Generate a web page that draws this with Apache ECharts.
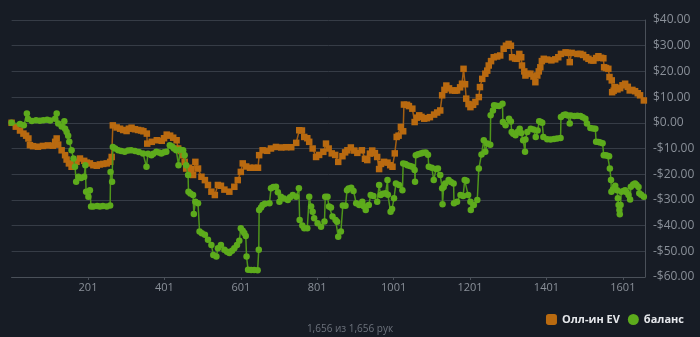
<!DOCTYPE html>
<html>
<head>
<meta charset="utf-8">
<script src="https://cdn.jsdelivr.net/npm/echarts@6/dist/echarts.min.js"></script>
<style>
  html, body { margin: 0; padding: 0; background: #171c25; }
  #chart { width: 700px; height: 337px; }
</style>
</head>
<body>
<div id="chart"></div>
<script>
// Hands played and session totals
const handsTotal = 1656;
const subtitleText = '1,656 из 1,656 рук';
const seriesNames = ['Олл-ин EV', 'баланс'];
const seriesColors = ['#b96a10', '#5dab1c'];

// All-in EV, [hand number, dollars]
const allInEv = [
  [1,0],[12,-1.5],[23,-3.0],[32,-4.2],[39,-5.0],[45,-6.1],[49,-8.7],[57,-9.1],[70,-9.3],[83,-9.0],
  [96,-8.8],[109,-8.9],[115,-7.4],[119,-6.1],[123,-8.5],[132,-10.7],[141,-12.6],[145,-14.3],[151,-15.8],[158,-17.1],
  [164,-16.0],[171,-15.2],[180,-13.9],[191,-14.8],[198,-15.5],[206,-15.8],[215,-16.5],[224,-16.7],[232,-16.2],[241,-16.0],
  [250,-15.8],[259,-15.2],[263,-13.3],[266,-1.0],[276,-1.8],[285,-2.3],[293,-2.8],[302,-3.2],[308,-2.3],[315,-1.9],
  [324,-2.5],[332,-2.8],[340,-3.0],[346,-3.3],[355,-4.2],[356,-8.1],[368,-7.4],[381,-6.8],[394,-7.0],[400,-6.0],
  [407,-4.6],[416,-5.0],[424,-5.8],[433,-6.8],[437,-10.0],[444,-11.0],[449,-12.6],[454,-15.2],[458,-17.8],[465,-17.5],
  [471,-18.0],[476,-20.3],[482,-15.2],[489,-17.8],[498,-21.0],[507,-22.3],[515,-24.2],[524,-26.8],[533,-28.1],[541,-24.2],
  [549,-24.5],[558,-26.0],[571,-26.8],[584,-24.9],[593,-22.3],[601,-19.1],[606,-15.8],[615,-17.0],[625,-17.5],[636,-17.5],
  [646,-17.5],[649,-12.6],[658,-10.7],[670,-10.9],[680,-10.0],[693,-9.4],[707,-9.6],[720,-9.5],[733,-9.5],[746,-7.8],
  [754,-2.9],[761,-3.0],[767,-5.5],[775,-6.0],[780,-7.4],[789,-10.0],[798,-13.3],[806,-12.5],[817,-11.3],[824,-8.1],
  [831,-10.0],[839,-11.9],[848,-12.5],[856,-15.2],[867,-13.0],[874,-11.5],[880,-10.7],[889,-9.6],[898,-10.8],[906,-11.7],
  [918,-10.7],[926,-14.0],[932,-14.5],[939,-12.0],[945,-10.8],[952,-11.8],[958,-13.3],[963,-18.0],[968,-16.0],[976,-15.2],
  [985,-15.5],[992,-16.5],[998,-17.1],[1004,-11.9],[1009,-5.5],[1014,-5.0],[1020,-1.6],[1026,-3.3],[1028,7.1],[1036,7.0],
  [1041,6.5],[1050,5.5],[1056,0.3],[1062,2.0],[1068,2.9],[1074,2.3],[1081,1.6],[1088,1.8],[1096,2.2],[1107,3.2],
  [1115,4.0],[1123,4.8],[1128,10.7],[1134,12.8],[1139,14.5],[1146,13.4],[1154,12.6],[1162,12.5],[1167,12.6],[1175,13.8],
  [1180,15.2],[1184,21.0],[1188,15.0],[1191,9.4],[1197,7.3],[1202,6.1],[1209,7.0],[1215,8.1],[1224,10.0],[1227,13.9],
  [1233,17.1],[1241,19.1],[1246,20.3],[1250,22.3],[1256,24.0],[1263,25.5],[1272,25.8],[1280,26.2],[1289,28.8],[1295,30.0],
  [1302,30.7],[1308,30.0],[1311,25.5],[1319,25.0],[1324,24.9],[1330,26.8],[1335,25.5],[1337,22.3],[1343,20.0],[1346,18.4],
  [1353,19.0],[1359,19.1],[1367,18.0],[1372,15.8],[1377,18.4],[1381,20.0],[1385,21.6],[1389,24.0],[1394,24.9],[1403,24.6],
  [1414,24.3],[1424,24.7],[1432,25.5],[1439,26.8],[1451,27.4],[1457,27.2],[1462,23.6],[1467,27.2],[1482,26.8],[1490,26.8],
  [1497,26.4],[1505,25.5],[1511,24.9],[1518,24.3],[1524,24.2],[1531,25.2],[1537,25.9],[1544,25.3],[1550,25.1],[1552,21.6],
  [1557,21.3],[1563,21.0],[1566,17.8],[1572,16.5],[1573,11.9],[1577,12.5],[1581,13.9],[1587,13.0],[1594,13.5],[1600,14.6],
  [1607,15.2],[1614,14.0],[1619,12.6],[1626,12.8],[1633,12.3],[1640,11.5],[1646,10.7],[1656,8.7]
];

// Balance, [hand number, dollars]
const balance = [
  [1,0],[23,-0.5],[33,-1.0],[41,3.6],[44,1.5],[54,0.7],[65,1.0],[75,0.8],[84,1.0],[94,1.2],
  [102,0.9],[115,1.6],[119,3.6],[123,-0.3],[132,-1.4],[139,0.6],[141,-2.3],[145,-3.6],[149,-5.0],[152,-7.4],
  [158,-10.7],[163,-13.9],[167,-17.1],[170,-22.9],[176,-21.0],[183,-21.5],[191,-21.0],[194,-16.5],[196,-26.8],[202,-28.8],
  [206,-26.2],[209,-32.6],[215,-32.6],[225,-32.4],[232,-32.6],[240,-32.4],[250,-32.6],[259,-32.2],[260,-19.1],[264,-22.9],
  [266,-9.4],[272,-10.0],[280,-10.7],[288,-11.0],[297,-11.3],[306,-10.8],[314,-10.7],[324,-11.0],[334,-11.4],[345,-11.9],
  [354,-17.1],[358,-12.0],[367,-12.6],[372,-12.0],[380,-11.3],[387,-11.6],[393,-11.9],[400,-11.5],[406,-11.3],[415,-8.7],
  [421,-9.2],[426,-10.0],[432,-10.7],[438,-16.5],[442,-10.5],[450,-10.7],[454,-12.6],[458,-16.5],[463,-20.3],[464,-26.8],
  [469,-27.5],[476,-28.1],[478,-35.5],[482,-30.7],[489,-31.3],[493,-42.3],[499,-43.0],[507,-43.6],[515,-45.5],[524,-47.5],
  [529,-51.4],[537,-52.0],[541,-48.8],[549,-47.5],[558,-49.4],[565,-50.2],[571,-50.7],[578,-49.8],[584,-48.8],[591,-47.5],
  [597,-45.9],[601,-41.0],[606,-42.0],[610,-42.9],[614,-44.0],[616,-52.0],[620,-57.2],[628,-57.3],[636,-57.3],[645,-57.4],
  [648,-49.4],[649,-33.9],[654,-33.0],[658,-32.0],[664,-31.5],[676,-31.3],[680,-25.5],[686,-25.0],[693,-24.9],[698,-27.0],
  [702,-30.7],[706,-28.8],[714,-29.5],[724,-30.0],[730,-29.0],[737,-28.1],[746,-28.8],[753,-25.5],[755,-37.8],[762,-40.0],
  [767,-41.0],[775,-41.0],[780,-28.8],[785,-32.6],[789,-34.6],[793,-37.1],[802,-39.1],[811,-40.4],[820,-38.4],[822,-28.8],
  [828,-28.8],[832,-32.6],[837,-33.0],[841,-36.5],[849,-37.8],[853,-38.5],[856,-44.3],[863,-42.3],[868,-32.2],[875,-32.3],
  [879,-26.2],[883,-25.6],[890,-25.3],[896,-26.5],[903,-31.3],[911,-32.0],[919,-30.7],[923,-32.5],[928,-33.9],[936,-32.0],
  [941,-28.1],[948,-28.5],[958,-30.7],[963,-24.2],[967,-28.1],[973,-27.6],[980,-27.4],[985,-22.3],[986,-28.0],[993,-34.6],
  [997,-33.5],[1002,-29.4],[1007,-23.6],[1015,-24.2],[1024,-26.2],[1026,-15.8],[1032,-16.0],[1037,-16.5],[1044,-16.8],[1050,-17.1],
  [1056,-18.4],[1057,-22.9],[1059,-12.6],[1065,-12.2],[1072,-11.9],[1078,-11.7],[1085,-11.6],[1091,-12.4],[1093,-17.1],[1101,-17.5],
  [1106,-22.3],[1112,-18.0],[1117,-17.8],[1123,-20.3],[1128,-25.5],[1129,-31.7],[1132,-25.0],[1136,-23.6],[1145,-22.3],[1151,-23.0],
  [1158,-23.6],[1159,-31.3],[1167,-30.7],[1176,-28.1],[1183,-28.5],[1187,-22.3],[1192,-22.5],[1196,-28.1],[1202,-30.7],[1203,-33.9],
  [1211,-32.0],[1220,-30.0],[1224,-17.8],[1231,-12.3],[1237,-6.8],[1241,-11.3],[1246,-8.1],[1254,-8.5],[1255,2.9],[1261,4.8],
  [1264,6.8],[1270,6.6],[1277,6.5],[1286,7.4],[1287,0.3],[1294,-1.0],[1303,1.6],[1308,0.5],[1310,-3.6],[1314,-4.3],
  [1320,-4.8],[1326,-3.5],[1331,-2.3],[1335,-4.0],[1340,-6.8],[1345,-11.3],[1346,-6.5],[1351,-3.6],[1360,-2.3],[1367,-2.6],
  [1373,-5.5],[1378,-3.0],[1382,0.6],[1386,0.3],[1390,0.0],[1393,-5.5],[1403,-6.4],[1412,-6.5],[1421,-6.3],[1429,-6.1],
  [1438,-5.9],[1439,2.3],[1446,3.0],[1451,3.2],[1457,2.8],[1462,-0.3],[1465,2.8],[1474,2.6],[1482,2.7],[1490,2.6],
  [1496,2.2],[1503,1.6],[1507,-0.3],[1516,-2.0],[1523,-2.2],[1529,-2.3],[1531,-7.4],[1537,-7.5],[1542,-7.7],[1548,-8.0],
  [1551,-12.6],[1556,-12.6],[1561,-12.8],[1565,-13.0],[1567,-17.8],[1570,-22.3],[1571,-26.8],[1575,-26.0],[1581,-24.5],[1586,-26.2],
  [1588,-29.4],[1590,-32.0],[1592,-33.9],[1593,-35.6],[1595,-32.0],[1597,-26.8],[1603,-26.5],[1607,-26.2],[1611,-27.0],[1616,-28.1],
  [1620,-29.8],[1622,-24.9],[1628,-24.0],[1633,-23.6],[1637,-24.2],[1642,-25.0],[1644,-27.4],[1649,-28.0],[1656,-28.8]
];

// Y axis range and step, in dollars
const yMin = -60, yMax = 40, yStep = 10;
// X axis step in hands; labels read 201, 401, ...
const xStep = 200;

const textGray = '#8a9099';
const axisGray = '#4a5059';
const gridGray = '#363c46';

function money(v) {
  const s = Math.abs(v).toFixed(2);
  return v < 0 ? '-$' + s : '$' + s;
}

// The x axis runs from zero; labels show 1-based hand numbers
const toPoints = arr => arr.map(([h, v]) => [h - 1, v]);

const chart = echarts.init(document.getElementById('chart'), null, { renderer: 'canvas' });

chart.setOption({
  backgroundColor: '#171c25',
  animation: false,
  textStyle: { fontFamily: '"Open Sans", "Noto Sans", sans-serif' },
  grid: { left: 11.6, right: 55, top: 20, bottom: 60, containLabel: false },
  title: {
    text: subtitleText,
    left: 'center',
    top: 319,
    textStyle: { color: '#6c727c', fontSize: 10, fontWeight: 'normal', fontFamily: '"Open Sans", sans-serif' }
  },
  legend: {
    right: 11,
    top: 309,
    itemWidth: 11,
    itemHeight: 11,
    itemGap: 8,
    textStyle: { color: '#e6e8ec', fontSize: 11, fontWeight: 'bold', fontFamily: '"Open Sans", sans-serif' },
    data: [
      { name: seriesNames[0], icon: 'roundRect' },
      { name: seriesNames[1], icon: 'circle' }
    ]
  },
  xAxis: {
    type: 'value',
    min: 0,
    max: handsTotal + 2,
    interval: xStep,
    axisLine: { show: true, onZero: false, lineStyle: { color: axisGray, width: 1 } },
    axisTick: { show: true, length: 3, lineStyle: { color: axisGray } },
    splitLine: { show: false },
    axisLabel: {
      color: textGray,
      fontSize: 11,
      margin: 5,
      showMinLabel: false,
      showMaxLabel: false,
      formatter: v => String(v + 1)
    }
  },
  yAxis: {
    type: 'value',
    position: 'right',
    min: yMin,
    max: yMax,
    interval: yStep,
    axisLine: { show: true, onZero: false, lineStyle: { color: axisGray, width: 1 } },
    axisTick: { show: false },
    splitLine: { show: true, lineStyle: { color: gridGray, width: 1 } },
    axisLabel: { color: textGray, fontSize: 12, margin: 8, formatter: money }
  },
  series: [
    {
      name: seriesNames[0],
      type: 'line',
      data: toPoints(allInEv),
      symbol: 'rect',
      symbolSize: 6.5,
      showSymbol: true,
      showAllSymbol: true,
      color: seriesColors[0],
      itemStyle: { color: seriesColors[0] },
      lineStyle: { color: '#a55f12', width: 1.5 },
      z: 2
    },
    {
      name: seriesNames[1],
      type: 'line',
      data: toPoints(balance),
      symbol: 'circle',
      symbolSize: 6.5,
      showSymbol: true,
      showAllSymbol: true,
      color: seriesColors[1],
      itemStyle: { color: seriesColors[1] },
      lineStyle: { color: '#4f961b', width: 1.5 },
      z: 3
    }
  ]
});
</script>
</body>
</html>
